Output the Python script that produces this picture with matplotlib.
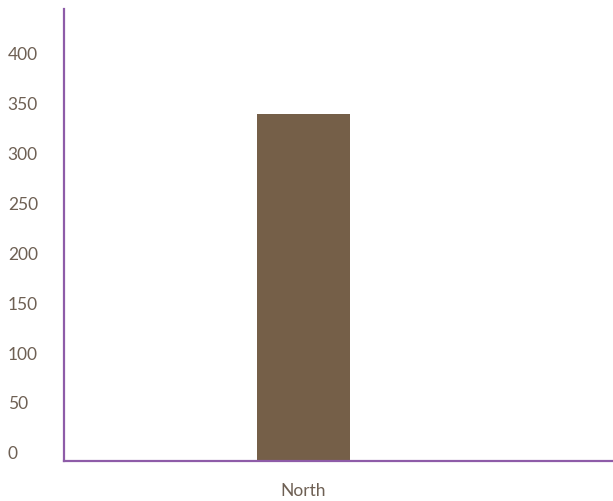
import matplotlib.pyplot as plt
from matplotlib.transforms import ScaledTranslation

# Sales by region
regions = ['North']
sales = [347]
ytick_values = [0, 50, 100, 150, 200, 250, 300, 350, 400]
ytick_labels = ['0', '50', '100', '150', '200', '250', '300', '350', '400']

bar_color = '#755f48'
axis_color = '#8e5ca8'
text_color = '#6e6054'

fw, fh, dpi = 6.13, 5.02, 100
fig = plt.figure(figsize=(fw, fh), dpi=dpi)
ax = fig.add_axes([64/613, 40/502, 549/613, 452/502])

ax.bar(range(len(regions)), sales, width=1.0, color=bar_color, zorder=2)

ax.set_xlim(-2.56, 3.31)
ax.set_ylim(0, 452)

for side in ['top', 'right']:
    ax.spines[side].set_visible(False)
for side in ['left', 'bottom']:
    ax.spines[side].set_color(axis_color)
    ax.spines[side].set_linewidth(1.6)

ax.set_xticks(range(len(regions)))
ax.set_xticklabels(regions, fontsize=12.5, color=text_color, family='Lato')
ax.set_yticks(ytick_values)
ax.set_yticklabels(ytick_labels, fontsize=12.5, color=text_color, family='Lato', ha='left')
ax.tick_params(axis='both', length=0)
ax.tick_params(axis='x', pad=15)
ax.tick_params(axis='y', pad=40.5)

# value labels sit a little above their gridline position
shift = ScaledTranslation(0, 9/dpi, fig.dpi_scale_trans)
for lbl in ax.get_yticklabels():
    lbl.set_transform(lbl.get_transform() + shift)

fig.savefig('out.png', dpi=dpi)
